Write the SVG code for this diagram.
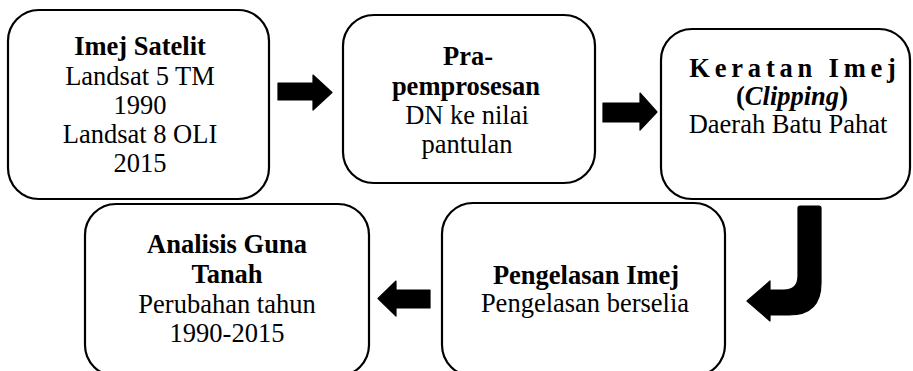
<svg xmlns="http://www.w3.org/2000/svg" width="913" height="371" viewBox="0 0 913 371">
<style>
.box{fill:#fff;stroke:#000;stroke-width:2.2}
text{font-family:"Liberation Serif","Times New Roman",serif;font-size:26.5px;fill:#000;text-anchor:middle}
.b{font-weight:bold}
.i{font-style:italic}
.arr{fill:#000;stroke:#000;stroke-width:1.2;stroke-linejoin:round}
</style>
<rect width="913" height="371" fill="#fff"/>
<g id="node-imej-satelit">
<rect class="box" x="8" y="10" width="261" height="189" rx="31"/>
<text x="140" y="55" class="b">Imej Satelit</text>
<text x="140" y="85">Landsat 5 TM</text>
<text x="140" y="114">1990</text>
<text x="140" y="143">Landsat 8 OLI</text>
<text x="140" y="172">2015</text>
</g>
<g id="node-pra-pemprosesan">
<rect class="box" x="343" y="15" width="252" height="168" rx="31"/>
<text x="468" y="65" class="b">Pra-</text>
<text x="466" y="95" class="b">pemprosesan</text>
<text x="467" y="124">DN ke nilai</text>
<text x="467" y="153">pantulan</text>
</g>
<g id="node-keratan-imej">
<rect class="box" x="661" y="29" width="249" height="170" rx="31"/>
<text x="795" y="77" class="b" style="letter-spacing:4.8px">Keratan Imej</text>
<text x="792" y="105" class="b">(<tspan class="i">Clipping</tspan>)</text>
<text x="788" y="133">Daerah Batu Pahat</text>
</g>
<g id="node-analisis-guna-tanah">
<rect class="box" x="85" y="204" width="284" height="172" rx="31"/>
<text x="227" y="253" class="b">Analisis Guna</text>
<text x="227" y="283" class="b">Tanah</text>
<text x="227" y="313">Perubahan tahun</text>
<text x="227" y="342">1990-2015</text>
</g>
<g id="node-pengelasan-imej">
<rect class="box" x="442" y="203" width="283" height="173" rx="31"/>
<text x="586" y="284" class="b">Pengelasan Imej</text>
<text x="585" y="312">Pengelasan berselia</text>
</g>
<g id="connectors">
<path class="arr" d="M278 83 L313 83 L313 75 L332 92.5 L313 110 L313 100 L278 100 Z"/>
<path class="arr" d="M603 103 L640 103 L640 93 L657 112 L640 130 L640 122 L603 122 Z"/>
<path class="arr" d="M430 290 L396 290 L396 281 L378 298.5 L396 316 L396 308 L430 308 Z"/>
<path class="arr" d="M800 206 L819 206 Q821 206 821 208 L821 283 Q821 315 789 315 L770 315 L770 321 L747 301 L770 281 L770 290 L784 290 Q798 290 798 276 L798 208 Q798 206 800 206 Z"/>
</g>
</svg>
